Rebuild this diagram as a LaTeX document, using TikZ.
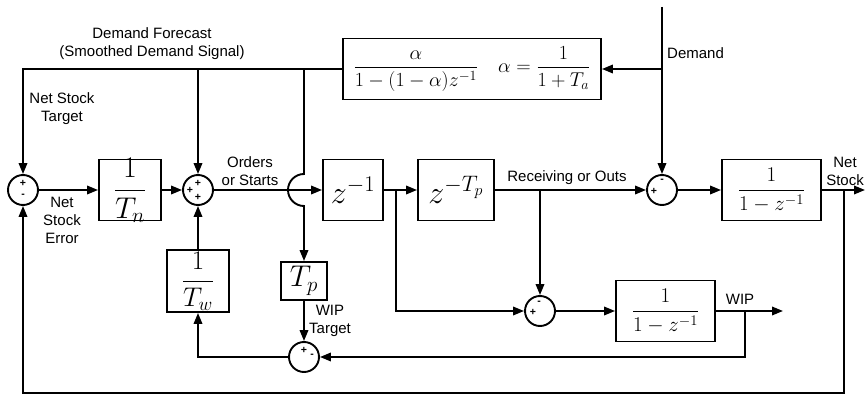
\RequirePackage{fix-cm}
\documentclass[tikz,border=0pt]{standalone}
\usepackage{amsmath}
\usepackage{fontspec}
\setsansfont{Liberation Sans}
\usetikzlibrary{arrows.meta}
\begin{document}
\begin{tikzpicture}[x=1pt,y=-1pt,
  arr/.style={line width=1.9pt,-{Triangle[length=11pt,width=8.5pt]}},
  blk/.style={draw,line width=1.9pt,inner sep=0pt,rectangle},
  sumnode/.style={draw,circle,line width=1.9pt,minimum size=30pt,inner sep=0pt},
  lbl/.style={font=\sffamily\fontsize{15}{18}\selectfont,inner sep=0pt,align=center},
  sgn/.style={font=\sffamily\bfseries\fontsize{10.5}{10.5}\selectfont,inner sep=0pt},
  mbig/.style={font=\fontsize{32}{36}\selectfont},
  mmid/.style={font=\fontsize{30}{34}\selectfont},
  mtw/.style={font=\fontsize{27}{31}\selectfont},
  msml/.style={font=\fontsize{21}{25}\selectfont}]
\useasboundingbox (0,0) rectangle (865,395);

% blocks
\node[sumnode] (s1) at (23,190) {};
\node[blk,minimum width=62pt,minimum height=61pt,mmid] (tn) at (130,190) {\raisebox{-0.25em}[0pt][0pt]{$\dfrac{1}{T_n}$}};
\node[sumnode] (s2) at (198,190) {};
\node[blk,minimum width=60pt,minimum height=61pt,mbig] (z1) at (353,190) {$z^{-1}$};
\node[blk,minimum width=76pt,minimum height=61pt,mbig] (zt) at (456,190) {$z^{-T_p}$};
\node[sumnode] (s3) at (662,190) {};
\node[blk,minimum width=99pt,minimum height=61pt,msml] (ns) at (771.5,190) {$\dfrac{1}{1-z^{-1}}$};
\node[blk,minimum width=258pt,minimum height=61pt,font=\fontsize{20}{24}\selectfont] (al) at (472,69) {$\dfrac{\alpha}{1-(1-\alpha)z^{-1}}\quad\alpha=\dfrac{1}{1+T_a}$};
\node[blk,minimum width=62pt,minimum height=62pt,mtw] (tw) at (198,281) {\raisebox{-0.25em}[0pt][0pt]{$\dfrac{1}{T_w}$}};
\node[blk,minimum width=46pt,minimum height=38pt,mmid] (tp) at (304,281) {$T_p$};
\node[sumnode] (s4) at (540,311) {};
\node[blk,minimum width=99pt,minimum height=61pt,msml] (wip) at (665.5,311) {$\dfrac{1}{1-z^{-1}}$};
\node[sumnode] (s5) at (304,357) {};

% signs
\node[sgn] (s1p) at (23,183) {+};
\node[sgn] (s1m) at (23,196) {-};
\node[sgn] (s2p1) at (198,183) {+};
\node[sgn] (s2p2) at (190,190) {+};
\node[sgn] (s2p3) at (198,197) {+};
\node[sgn] (s3m) at (662,181) {-};
\node[sgn] (s3p) at (654,191) {+};
\node[sgn] (s4m) at (539,303) {-};
\node[sgn] (s4p) at (533,312) {+};
\node[sgn] (s5p) at (304,350) {+};
\node[sgn] (s5m) at (312,356) {-};

% labels
\node[lbl] (ldf) at (152,44) {Demand Forecast\\(Smoothed Demand Signal)};
\node[lbl] (lnst) at (62,109) {Net Stock\\Target};
\node[lbl] (lnse) at (62,220) {Net\\Stock\\Error};
\node[lbl] (los) at (250,171) {Orders\\or Starts};
\node[lbl] (lro) at (567,178) {Receiving or Outs};
\node[lbl,anchor=west] (ldm) at (667,53) {Demand};
\node[lbl] (lns) at (845,171) {Net\\Stock};
\node[lbl] (lwip) at (740,299) {WIP};
\node[lbl] (lwt) at (330,321) {WIP\\Target};

% connectors
\coordinate (dtop) at (662,7);
\draw[arr] (dtop) -- (s3.north);
\draw[arr] (s3.north |- al.east) -- (al.east);
\draw[arr] (al.west) -| (s1.north);
\draw[arr] (s2.north |- al.west) -- (s2.north);
\coordinate (jc) at (tp.north |- s2.east);
\draw[arr] (tp.north |- al.west) -- ([yshift=16pt]jc) arc[start angle=90,end angle=270,radius=16pt] -- (tp.north);
\draw[arr] (s1.east) -- (tn.west);
\draw[arr] (tn.east) -- (s2.west);
\draw[arr] (s2.east) -- (z1.west);
\draw[arr] (z1.east) -- (zt.west);
\draw[arr] (zt.east) -- (s3.west);
\draw[arr] (s3.east) -- (ns.west);
\coordinate (nsout) at (865,190);
\draw[arr] (ns.east) -- (nsout);
\coordinate (b4) at (844,190);
\coordinate (bot) at (844,393);
\draw[arr] (b4) -- (bot) -| (s1.south);
\coordinate (b1) at (396,190);
\draw[arr] (b1) |- (s4.west);
\draw[arr] (s4.north |- zt.east) -- (s4.north);
\draw[arr] (s4.east) -- (wip.west);
\coordinate (wipout) at (783,311);
\draw[arr] (wip.east) -- (wipout);
\coordinate (b3) at (745,311);
\draw[arr] (b3) |- (s5.east);
\draw[arr] (s5.west) -| (tw.south);
\draw[arr] (tw.north) -- (s2.south);
\draw[arr] (tp.south) -- (s5.north);
\end{tikzpicture}
\end{document}
